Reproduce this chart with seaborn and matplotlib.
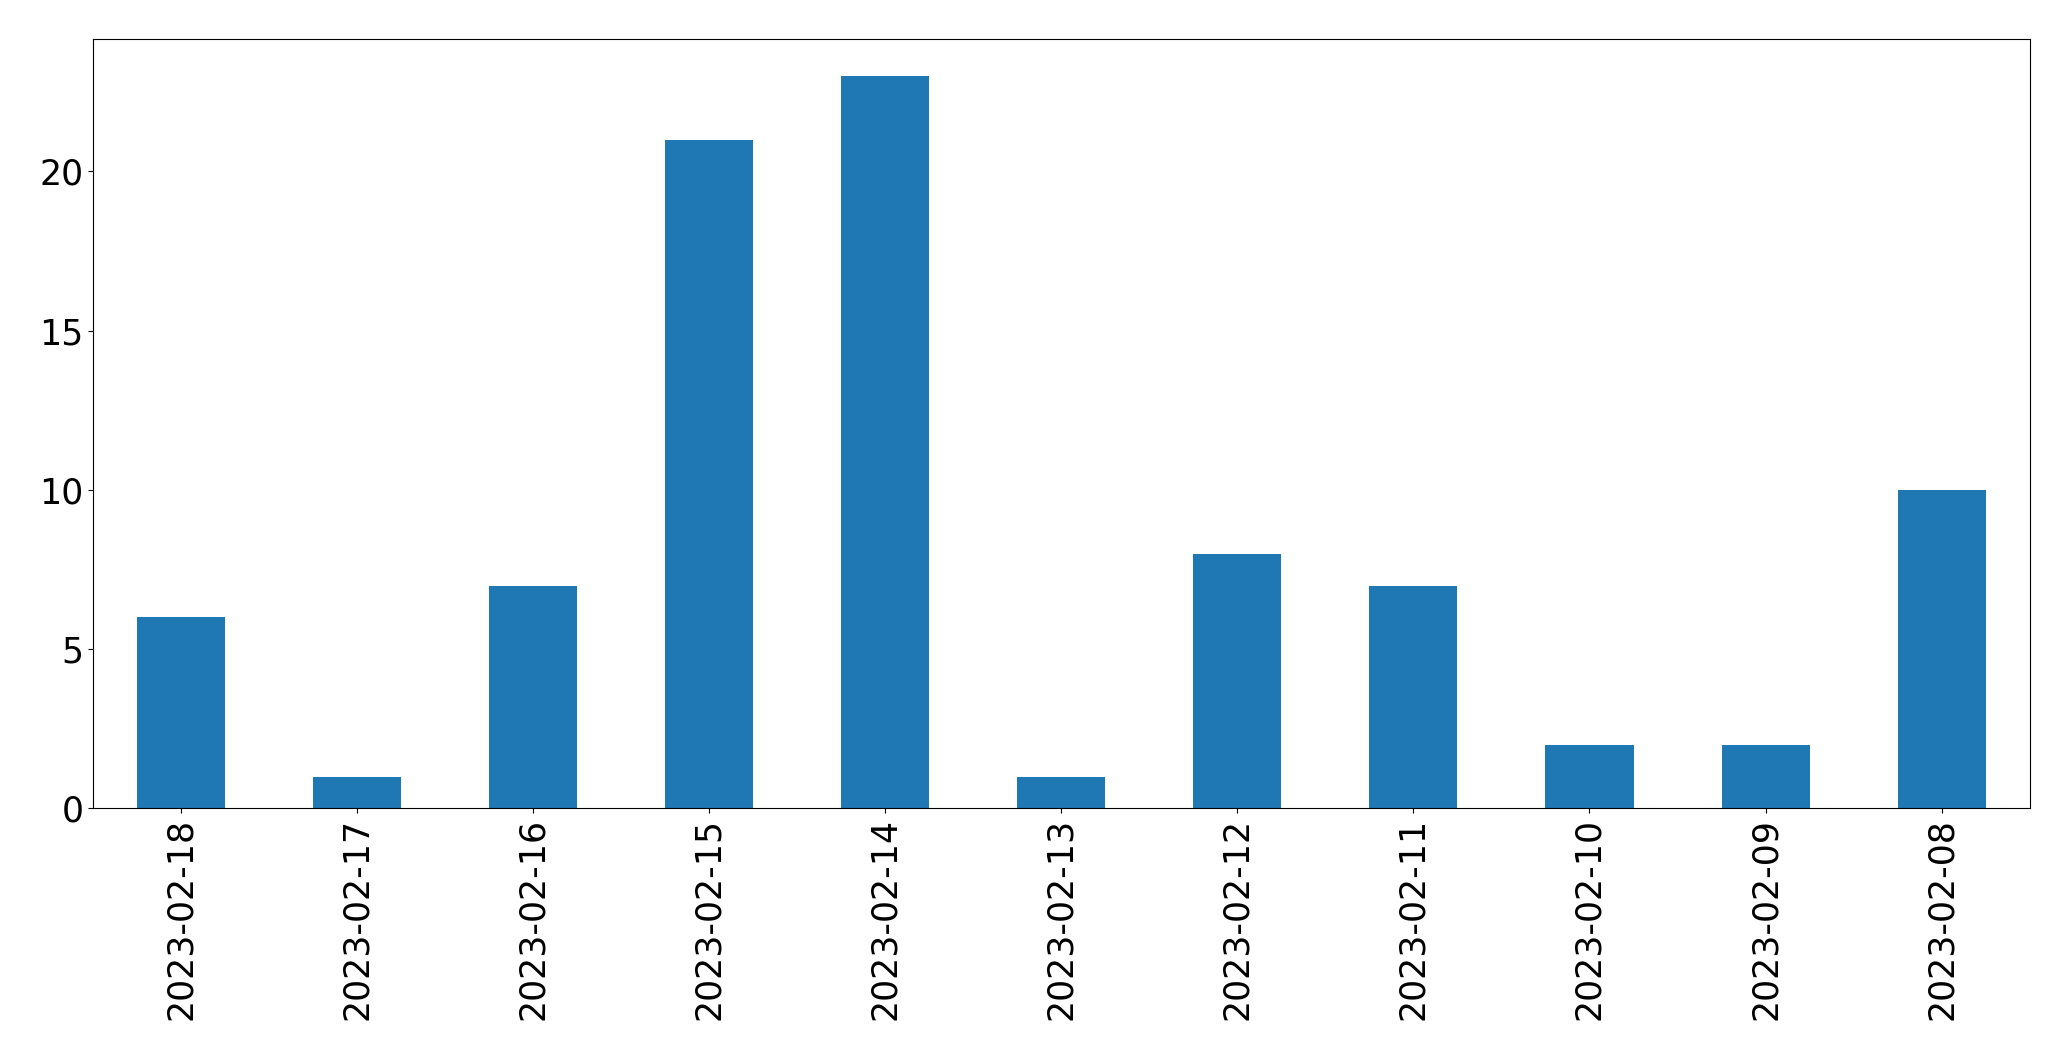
import matplotlib
matplotlib.use("Agg")
import matplotlib.pyplot as plt
import seaborn as sns
import pandas as pd

dates = ["2023-02-18", "2023-02-17", "2023-02-16", "2023-02-15", "2023-02-14",
         "2023-02-13", "2023-02-12", "2023-02-11", "2023-02-10", "2023-02-09",
         "2023-02-08"]
counts = [6, 1, 7, 21, 23, 1, 8, 7, 2, 2, 10]

df = pd.DataFrame({"date": dates, "count": counts})

fig, ax = plt.subplots(figsize=(20.71, 10.61), dpi=100)
sns.barplot(data=df, x="date", y="count", order=dates, color="#1f77b4",
            saturation=1, width=0.5, linewidth=0, ax=ax)

ax.set_xlabel("")
ax.set_ylabel("")
ax.set_xlim(-0.5, len(dates) - 0.5)
ax.tick_params(axis="x", rotation=90, labelsize=25)
ax.tick_params(axis="y", labelsize=25)

fig.subplots_adjust(left=0.045, right=0.98, top=0.963, bottom=0.238)
fig.savefig("out.png", dpi=100)
